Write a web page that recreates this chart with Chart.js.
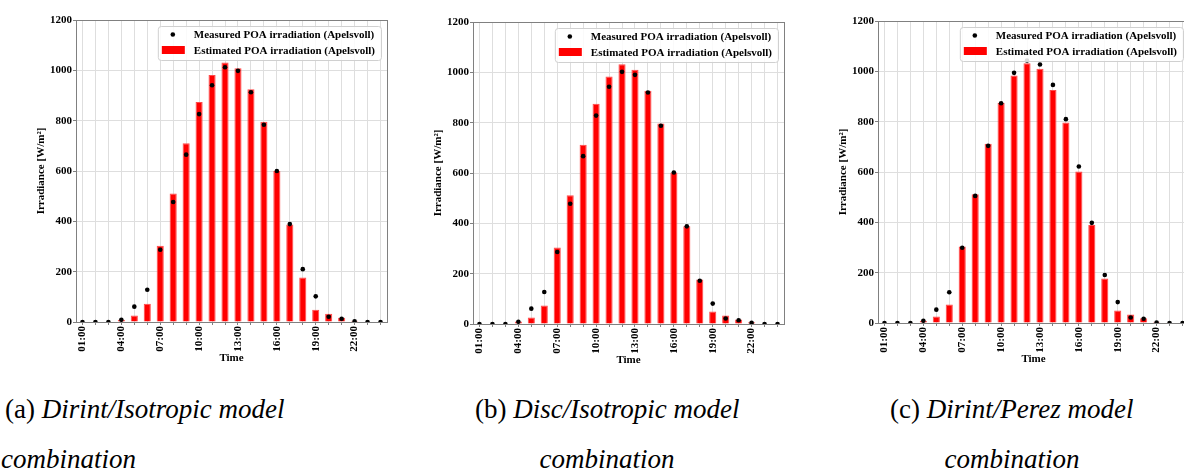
<!DOCTYPE html>
<html>
<head>
<meta charset="utf-8">
<script src="https://cdn.jsdelivr.net/npm/chart.js@4.4.1/dist/chart.umd.min.js"></script>
<style>
  html, body { margin: 0; padding: 0; background: #fff; overflow: hidden; }
  body { width: 1184px; height: 470px; position: relative; }
  .panel { position: absolute; width: 400px; height: 369px; }
  .cap { position: absolute; font-family: "Liberation Serif", serif; font-size: 27px; color: #000; white-space: nowrap; line-height: 1; }
  .cap i { font-style: italic; }
  .mid { width: 300px; text-align: center; }
</style>
</head>
<body>

<div class="panel" style="left:0px;top:0px;"><canvas id="chartA"></canvas></div>
<div class="panel" style="left:397px;top:2px;"><canvas id="chartB"></canvas></div>
<div class="panel" style="left:802px;top:1px;"><canvas id="chartC"></canvas></div>

<div class="cap" style="left:5px;top:396px;">(a) <i>Dirint/Isotropic model</i></div>
<div class="cap" style="left:1px;top:446px;"><i>combination</i></div>
<div class="cap" style="left:475px;top:396px;">(b) <i>Disc/Isotropic model</i></div>
<div class="cap mid" style="left:457px;top:446px;"><i>combination</i></div>
<div class="cap" style="left:890px;top:396px;">(c) <i>Dirint/Perez model</i></div>
<div class="cap mid" style="left:862px;top:446px;"><i>combination</i></div>

<script>
// hours of the day, label shown every 3rd hour
const hours = ['01:00', '02:00', '03:00', '04:00', '05:00', '06:00', '07:00', '08:00',
  '09:00', '10:00', '11:00', '12:00', '13:00', '14:00', '15:00', '16:00',
  '17:00', '18:00', '19:00', '20:00', '21:00', '22:00', '23:00', '24:00'];

const yTicks = [0, 200, 400, 600, 800, 1000, 1200];

// (a) Dirint / Isotropic
const estimatedA = [0, 0, 0, 9, 26, 73, 303, 511, 710, 874, 981, 1031, 1008, 925, 796, 600, 387, 177, 49, 33, 17, 5, 0, 0];
const measuredA  = [0, 0, 0, 9, 61, 128, 287, 477, 665, 826, 941, 1012, 998, 913, 784, 600, 389, 210, 102, 21, 13, 3, 0, 0];

// (b) Disc / Isotropic
const estimatedB = [0, 0, 0, 10, 26, 74, 304, 512, 712, 875, 983, 1032, 1010, 927, 797, 602, 388, 177, 50, 34, 18, 7, 0, 0];
const measuredB  = [0, 0, 0, 9, 61, 127, 286, 478, 667, 828, 943, 1002, 990, 920, 788, 602, 388, 172, 81, 22, 15, 5, 0, 0];

// (c) Dirint / Perez
const estimatedC = [0, 0, 0, 9, 26, 74, 304, 512, 712, 875, 983, 1032, 1010, 926, 797, 602, 389, 177, 50, 34, 19, 5, 0, 0];
const measuredC  = [0, 0, 0, 9, 53, 122, 299, 505, 704, 873, 994, 1043, 1027, 946, 810, 622, 398, 191, 83, 22, 17, 2, 0, 0];

const FONT = '"Liberation Serif", "Times New Roman", serif';
const LABEL_MEASURED = 'Measured POA irradiation (Apelsvoll)';
const LABEL_ESTIMATED = 'Estimated POA irradiation (Apelsvoll)';

// frame around the plot area (matplotlib style spines)
const framePlugin = {
  id: 'frame',
  afterDatasetsDraw(chart) {
    const a = chart.chartArea;
    const ctx = chart.ctx;
    ctx.save();
    ctx.strokeStyle = '#808080';
    ctx.lineWidth = 1;
    ctx.strokeRect(Math.round(a.left) + 0.5, Math.round(a.top) + 0.5,
      Math.round(a.right - a.left), Math.round(a.bottom - a.top));
    ctx.restore();
  }
};

// legend box inside the plot area, top right
const boxLegend = {
  id: 'boxLegend',
  afterDraw(chart) {
    const a = chart.chartArea;
    const ctx = chart.ctx;
    const ds = chart.data.datasets;
    ctx.save();
    ctx.font = 'bold 11px ' + FONT;
    const tw = Math.max(...ds.map(d => ctx.measureText(d.label).width));
    const w = 36 + tw + 6;
    const h = 34;
    const x = a.right - 6 - w;
    const y = a.top + 6;

    ctx.beginPath();
    ctx.roundRect(x + 0.5, y + 0.5, w, h, 3);
    ctx.fillStyle = 'rgba(255,255,255,0.85)';
    ctx.fill();
    ctx.strokeStyle = '#d0d0d0';
    ctx.lineWidth = 1;
    ctx.stroke();

    ctx.fillStyle = '#000';
    ctx.textBaseline = 'middle';
    ctx.textAlign = 'left';
    // row 1: measured (dot)
    ctx.beginPath();
    ctx.arc(x + 15, y + 8.5, 2.3, 0, Math.PI * 2);
    ctx.fill();
    ctx.fillText(ds[0].label, x + 36, y + 9);
    // row 2: estimated (red patch)
    ctx.fillStyle = '#ff0000';
    ctx.fillRect(x + 4, y + 20, 23, 8);
    ctx.fillStyle = '#000';
    ctx.fillText(ds[1].label, x + 36, y + 25);
    ctx.restore();
  }
};

function makePanel(id, estimated, measured) {
  return new Chart(document.getElementById(id), {
    type: 'bar',
    data: {
      labels: hours,
      datasets: [
        {
          type: 'line',
          label: LABEL_MEASURED,
          data: measured,
          showLine: false,
          pointRadius: 2.3,
          pointHoverRadius: 2.3,
          pointBackgroundColor: '#000',
          pointBorderWidth: 0
        },
        {
          type: 'bar',
          label: LABEL_ESTIMATED,
          data: estimated,
          backgroundColor: '#ff0000',
          borderColor: '#ff4a4a',
          borderWidth: 1,
          categoryPercentage: 1,
          barPercentage: 0.55
        }
      ]
    },
    options: {
      responsive: true,
      maintainAspectRatio: false,
      animation: false,
      layout: { padding: { left: 31, top: 20, right: 13, bottom: 0 } },
      plugins: {
        legend: { display: false },
        tooltip: { enabled: false }
      },
      scales: {
        x: {
          offset: true,
          grid: { offset: false, color: '#dedede', tickLength: 3, tickColor: '#808080' },
          border: { color: '#808080' },
          ticks: {
            autoSkip: false,
            minRotation: 90,
            maxRotation: 90,
            padding: 1,
            color: '#000',
            font: { family: FONT, size: 11, weight: 'bold' },
            callback: (v, i) => (i % 3 === 0 ? hours[i] : '')
          },
          title: {
            display: true,
            text: 'Time',
            color: '#000',
            padding: { top: 4, bottom: 4 },
            font: { family: FONT, size: 11, weight: 'bold' }
          },
          afterFit: s => { s.height = 47; }
        },
        y: {
          min: 0,
          max: 1200,
          afterBuildTicks: s => { s.ticks = yTicks.map(v => ({ value: v })); },
          grid: { color: '#dedede', tickLength: 3, tickColor: '#808080' },
          border: { color: '#808080' },
          ticks: {
            padding: 1,
            color: '#000',
            font: { family: FONT, size: 11, weight: 'bold' },
            callback: v => String(v)
          },
          title: {
            display: true,
            text: 'Irradiance [W/m²]',
            color: '#000',
            padding: { top: 4, bottom: 4 },
            font: { family: FONT, size: 11, weight: 'bold' }
          },
          afterFit: s => { s.width = 45; }
        }
      }
    },
    plugins: [framePlugin, boxLegend]
  });
}

makePanel('chartA', estimatedA, measuredA);
makePanel('chartB', estimatedB, measuredB);
makePanel('chartC', estimatedC, measuredC);
</script>
</body>
</html>
